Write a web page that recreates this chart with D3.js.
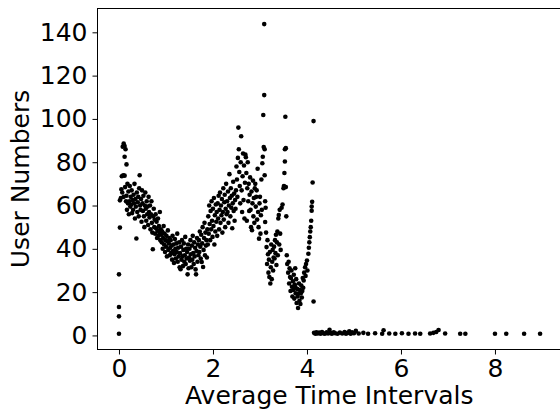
<!DOCTYPE html>
<html>
<head>
<meta charset="utf-8">
<script src="https://cdn.jsdelivr.net/npm/d3@7"></script>
<style>
  body { margin: 0; background: #fff; }
  svg { display: block; font-family: "DejaVu Sans", sans-serif; }
</style>
</head>
<body>
<svg id="chart" width="560" height="411"></svg>
<script>
// points, [time interval, user numbers]
const startColumn = [[0.0,0.8],[0.0,8.8],[0.0,13.1],[0.0,28.2],[0.02,49.8],[0.02,62.4],[0.04,63.5]]

const firstPeak = [
  [0.06,73.5],[0.09,74],[0.12,73.8],[0.08,87.2],[0.1,88.6],[0.12,87.5],[0.14,86],[0.12,82.5],[0.16,79],
  [0.05,67.5],[0.07,66],[0.1,64],[0.13,68.5],[0.15,62],
  [0.16,64.5],[0.17,58],[0.18,70],[0.19,61],[0.2,66.5],[0.21,56],[0.22,62],[0.23,69],[0.24,59.5],[0.25,64],
  [0.26,60.5],[0.27,67],[0.28,56.5],[0.29,62.5],
  [0.3,58],[0.31,65],[0.32,61],[0.33,70],[0.34,54],[0.35,63],[0.36,59.5],[0.37,44.8],[0.38,66],[0.39,57],
  [0.4,61.5],[0.41,64],[0.42,55],[0.43,68],[0.44,74],[0.45,60],[0.46,58],[0.47,63],[0.48,52.5],[0.49,67]
]

const firstDip = [
  [0.5,61],[0.51,57.5],[0.52,64.5],[0.53,55],[0.54,50],[0.55,60],[0.56,66],[0.57,58.5],[0.58,53],[0.59,62],
  [0.6,56],[0.61,59.5],[0.62,51],[0.63,64],[0.64,57],[0.65,54.5],[0.66,60],[0.67,49],[0.68,56],[0.69,62],
  [0.7,52],[0.71,47.5],[0.72,39.8],[0.73,55],[0.74,58.5],[0.75,50],[0.76,53.5],[0.77,47],[0.78,56],[0.79,49.5],
  [0.8,52.5],[0.81,45],[0.82,48.5],[0.83,54],[0.84,46],[0.85,50.5],[0.86,47.5],[0.87,57],[0.88,44],[0.89,49],
  [0.9,46.5],[0.91,43],[0.92,48],[0.93,40],[0.94,45],[0.95,50.5],[0.96,42],[0.97,47],[0.98,38.5],[0.99,44],
  [1.0,41],[1.01,46],[1.02,36.5],[1.03,43.5],[1.04,48.5],[1.05,39.5],[1.06,42.5],[1.07,45],[1.08,37],[1.09,40.5],
  [1.1,44],[1.11,38],[1.12,41.5],[1.13,35],[1.14,46],[1.15,39],[1.16,42],[1.17,33.5],[1.18,37.5],[1.19,44.5],
  [1.2,40],[1.21,35.5],[1.22,42.5],[1.23,38.5],[1.24,47],[1.25,34],[1.26,40.5],[1.27,36.5],[1.28,43],[1.29,31.5],
  [1.3,38],[1.31,30.6],[1.32,41],[1.33,35],[1.34,44],[1.35,36.5],[1.36,32],[1.37,39.5],[1.38,42.5],[1.39,34],
  [1.4,37],[1.41,45.5],[1.42,33],[1.43,40],[1.44,35.5],[1.45,38.5],[1.46,28.2],[1.47,42],[1.48,31],[1.49,36],
  [1.5,40],[1.51,34.5],[1.52,44],[1.53,37.5],[1.54,31.5],[1.55,41.5],[1.56,35],[1.57,46],[1.58,38],[1.59,33],
  [1.6,43],[1.61,36.5],[1.62,40.5],[1.63,30.5],[1.64,28.2],[1.65,39],[1.66,45],[1.67,34],[1.68,42],[1.69,37]
]

const secondRise = [
  [1.7,44],[1.71,38.5],[1.72,48],[1.73,41],[1.74,35.5],[1.75,46.5],[1.76,33.9],[1.77,42.5],[1.78,50],[1.79,31.6],
  [1.8,39.5],[1.81,45],[1.82,52],[1.83,37],[1.84,47.5],[1.85,41.5],[1.86,44],[1.87,36],[1.88,49],[1.89,42],
  [1.9,55],[1.91,47],[1.92,60],[1.93,51.5],[1.94,44],[1.95,57.5],[1.96,49],[1.97,62],[1.98,53],[1.99,45.5],
  [2.0,58.5],[2.01,50.5],[2.02,63.5],[2.03,42],[2.04,55.5],[2.05,48],[2.06,60.5],[2.07,52.5],[2.08,57],[2.09,46],
  [2.1,61],[2.11,54],[2.12,64.5],[2.13,49],[2.14,58],[2.15,66],[2.16,52],[2.17,60],[2.18,55.5],[2.19,63],
  [2.2,47.5],[2.21,57],[2.22,68],[2.23,53.5],[2.24,61.5],[2.25,65],[2.26,50],[2.27,58.5],[2.28,70],[2.29,56],
  [2.3,62],[2.31,57],[2.32,66.5],[2.33,52],[2.34,60],[2.35,74.5],[2.36,63.5],[2.37,55],[2.38,68],[2.39,59],
  [2.4,64.5],[2.41,49.5],[2.42,61],[2.43,71],[2.44,57.5],[2.45,65.5],[2.46,53],[2.47,62.5],[2.48,58.5],[2.49,67]
]

const secondPeak = [
  [2.5,78],[2.51,72],[2.52,64],[2.53,82],[2.54,96],[2.55,86],[2.56,75.5],[2.57,69],[2.58,61],[2.59,80],
  [2.6,92],[2.61,67],[2.62,57],[2.63,73.5],[2.64,84],[2.65,62.5],[2.66,78.5],[2.67,54],[2.68,70.5],[2.69,83.5],
  [2.7,82.3],[2.71,75],[2.72,53],[2.73,68],[2.74,80],[2.75,62],[2.76,70],[2.77,57.5],[2.78,65],[2.79,73],
  [2.8,58],[2.81,50],[2.82,66.5],[2.83,48.6],[2.84,61],[2.85,71.5],[2.86,55],[2.87,63.5],[2.88,52],[2.89,68],
  [2.9,70],[2.91,59.5],[2.92,64],[2.93,67],[2.94,53.5],[2.95,77],[2.96,57],[2.97,50],[2.98,44.7],[2.99,61],
  [3.0,64],[3.01,47],[3.02,55.5],[3.03,72],[3.04,58],[3.05,79.5],[3.06,82.5],[3.07,101.8],[3.08,87],
  [3.09,143.8],[3.09,111],[3.1,86],[3.1,74],[3.11,62],[3.11,52.4],[3.12,59]
]

const spikes = [
  [3.13,47.5],[3.14,40.8],[3.15,33],[3.16,44],[3.17,37.5],[3.18,29],[3.19,35],[3.2,27],[3.21,38.5],[3.22,24],
  [3.23,31.5],[3.24,42],[3.25,26],[3.26,34],[3.27,39.5],[3.28,30],[3.29,36],
  [3.3,41],[3.31,35.5],[3.32,44],[3.33,38],[3.34,46.5],[3.35,32.5],[3.36,43],[3.37,48],[3.38,37],[3.39,54],
  [3.4,55.6],[3.41,42],[3.42,58],[3.43,47],[3.44,39.5],
  [3.46,59],[3.48,60.5],[3.5,68],[3.51,69],[3.52,75],[3.53,80.3],[3.53,86],[3.54,101],[3.55,86.5],[3.55,68.5],
  [3.56,55],[3.57,37],[3.58,33],
  [3.6,29],[3.61,34],[3.62,24],[3.63,31],[3.64,27],[3.65,20.5],[3.66,26.5],[3.67,30],[3.68,22.5],[3.69,18],
  [3.7,25],[3.71,21],[3.72,28],[3.73,17],[3.74,23.5],[3.75,31],[3.75,22.4],[3.76,19.5],[3.77,26],[3.78,15],[3.79,21.5],
  [3.8,18],[3.81,12.7],[3.82,19.3],[3.83,24],[3.84,16],[3.85,21],[3.86,14.5],[3.87,19.5],[3.88,23],[3.89,17.5],
  [3.9,20.5],[3.91,26.5],[3.92,22],[3.93,25.4],[3.94,29],
  [3.96,31.5],[3.97,27.5],[3.98,33],[4.0,34.6],[4.01,30],[4.03,37.7],[4.04,40.5],[4.05,43],[4.06,45.4],[4.07,48],
  [4.08,50],[4.09,53],[4.1,57.6],[4.1,59.5],[4.11,61.7],[4.12,70.6],[4.14,99],[4.14,15.7]
]

const tail = [
  [4.15,1.2],[4.18,0.8],[4.2,1.5],[4.23,0.9],[4.26,1.3],[4.29,0.8],[4.32,1.6],[4.35,1.0],[4.38,0.8],[4.42,1.4],
  [4.45,0.9],[4.48,2.6],[4.5,1.2],[4.53,0.8],[4.57,1.5],[4.6,1.0],[4.65,0.8],[4.7,1.3],[4.75,0.9],[4.8,1.6],
  [4.83,0.8],[4.87,1.2],[4.9,1.9],[4.93,0.8],[4.96,1.4],[5.0,1.0],[5.04,2.1],[5.1,0.9],[5.2,1.2],[5.3,0.8],
  [5.45,1.0],[5.6,0.8],[5.63,2.4],[5.75,0.9],[5.88,0.8],[6.02,1.0],[6.16,0.8],[6.3,0.9],[6.41,0.8],[6.62,0.9],
  [6.69,1.2],[6.75,1.6],[6.8,2.5],[6.94,0.9],[7.26,0.8],[7.37,0.8],[8.0,0.8],[8.24,0.8],[8.62,0.8],[8.96,0.8]
]

const xTicks = [0, 2, 4, 6, 8]
const yTicks = [0, 20, 40, 60, 80, 100, 120, 140]
const xTitle = "Average Time Intervals"
const yTitle = "User Numbers"

const points = [].concat(startColumn, firstPeak, firstDip, secondRise, secondPeak, spikes, tail)

// right edge of the frame sits just outside the cropped picture
const margin = { top: 8.5, left: 97.5, bottom: 349.5, right: 561 }

const svg = d3.select("#chart")

const xScale = d3.scaleLinear()
    .domain([-0.457, 9.405])
    .range([margin.left, margin.right])

const yScale = d3.scaleLinear()
    .domain([-6.5, 151])
    .range([margin.bottom, margin.top])

// dots
svg.append("g")
    .selectAll("circle")
    .data(points)
    .enter()
    .append("circle")
        .attr("cx", d => xScale(d[0]))
        .attr("cy", d => yScale(d[1]))
        .attr("r", 2.3)
        .attr("fill", "#000")

// frame
svg.append("rect")
    .attr("x", margin.left)
    .attr("y", margin.top)
    .attr("width", margin.right - margin.left)
    .attr("height", margin.bottom - margin.top)
    .attr("fill", "none")
    .attr("stroke", "#000")
    .attr("stroke-width", 1)

const xAxis = svg.append("g")
    .attr("transform", `translate(0, ${margin.bottom})`)
    .call(d3.axisBottom(xScale).tickValues(xTicks).tickSize(5).tickPadding(5).tickFormat(d3.format("d")))
xAxis.select(".domain").remove()

const yAxis = svg.append("g")
    .attr("transform", `translate(${margin.left}, 0)`)
    .call(d3.axisLeft(yScale).tickValues(yTicks).tickSize(5).tickPadding(5).tickFormat(d3.format("d")))
yAxis.select(".domain").remove()

svg.selectAll(".tick text")
    .attr("font-family", "DejaVu Sans")
    .attr("font-size", "25px")
    .attr("fill", "#000")
svg.selectAll(".tick line").attr("stroke", "#000")

svg.append("text")
    .attr("x", (margin.left + margin.right) / 2)
    .attr("y", 404)
    .attr("text-anchor", "middle")
    .attr("font-size", "25px")
    .attr("fill", "#000")
    .text(xTitle)

svg.append("text")
    .attr("transform", `translate(29, ${(margin.top + margin.bottom) / 2}) rotate(-90)`)
    .attr("text-anchor", "middle")
    .attr("font-size", "25px")
    .attr("fill", "#000")
    .text(yTitle)
</script>
</body>
</html>
